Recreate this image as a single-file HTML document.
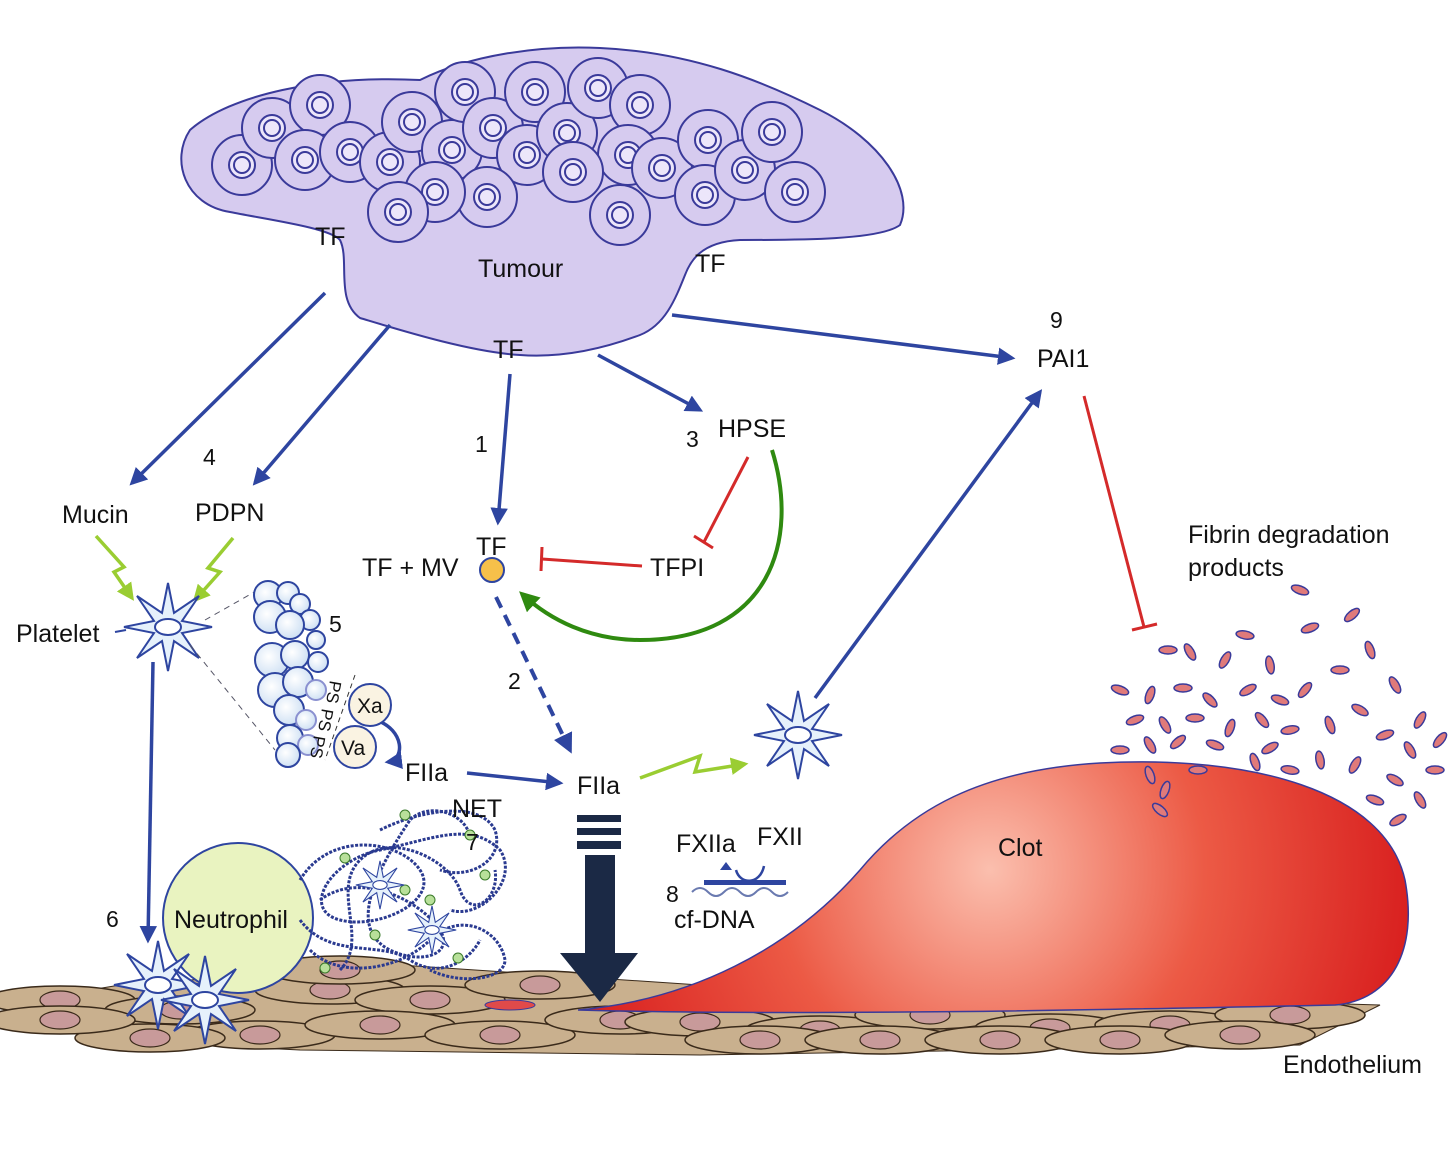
<!DOCTYPE html>
<html><head><meta charset="utf-8"><style>
html,body{margin:0;padding:0;background:#fff;}
svg{display:block;}
text{font-family:"Liberation Sans",Arial,sans-serif;fill:#111;}
</style></head><body>
<svg width="1456" height="1149" viewBox="0 0 1456 1149" xmlns="http://www.w3.org/2000/svg">
<defs>
<marker id="ab" viewBox="0 0 10 10" refX="8" refY="5" markerWidth="5" markerHeight="5" orient="auto"><path d="M0,0 L10,5 L0,10 Z" fill="#2e45a0"/></marker>
<marker id="ag" viewBox="0 0 10 10" refX="8" refY="5" markerWidth="5" markerHeight="5" orient="auto"><path d="M0,0 L10,5 L0,10 Z" fill="#2f8a10"/></marker>
<marker id="ay" viewBox="0 0 10 10" refX="8" refY="5" markerWidth="5" markerHeight="5" orient="auto"><path d="M0,0 L10,5 L0,10 Z" fill="#9acd32"/></marker>
<radialGradient id="cg" cx="990" cy="870" r="430" gradientUnits="userSpaceOnUse"><stop offset="0" stop-color="#fbbfae"/><stop offset="0.5" stop-color="#ec5a45"/><stop offset="1" stop-color="#d81e1e"/></radialGradient>
<radialGradient id="pg" cx="0.4" cy="0.4" r="0.7"><stop offset="0" stop-color="#ffffff"/><stop offset="1" stop-color="#c8dcf2"/></radialGradient>
<g id="star"><polygon points="44,0 14,-6 31,-31 6,-14 0,-44 -6,-14 -31,-31 -14,-6 -44,0 -14,6 -31,31 -6,14 0,44 6,14 31,31 14,6" fill="#e6f1fb" stroke="#2e45a0" stroke-width="2"/><ellipse cx="0" cy="0" rx="13" ry="8" fill="#fff" stroke="#2e45a0" stroke-width="2"/></g>
<g id="cell"><circle r="30" fill="#d6cbef" stroke="#3a3a9a" stroke-width="2"/><circle r="13" fill="#ece6fa" stroke="#3a3a9a" stroke-width="2"/><circle r="8" fill="#ece6fa" stroke="#3a3a9a" stroke-width="2"/></g>
<g id="ec"><ellipse rx="75" ry="14" fill="#c9b08e" stroke="#3a2a1a" stroke-width="1.5"/><ellipse rx="20" ry="9" fill="#c89a9a" stroke="#3a2a1a" stroke-width="1.2"/></g>
<g id="fd"><ellipse rx="9" ry="4" fill="#e07a7a" stroke="#3a3a9a" stroke-width="1.5"/></g>
</defs>

<path d="M190,130 C230,95 320,75 420,80 C470,55 540,45 600,48 C690,52 760,80 820,110 C880,140 915,190 900,225 C880,240 800,240 740,240 C700,242 690,262 685,275 C675,300 665,325 640,335 C600,350 560,358 520,355 C470,352 400,330 360,318 C335,300 350,260 340,240 C330,228 270,220 230,212 C185,205 170,160 190,130 Z" fill="#d6cbef" stroke="#3a3a9a" stroke-width="2"/>
<g>
<use href="#cell" x="242" y="165"/><use href="#cell" x="272" y="128"/><use href="#cell" x="320" y="105"/><use href="#cell" x="305" y="160"/><use href="#cell" x="350" y="152"/><use href="#cell" x="390" y="162"/><use href="#cell" x="412" y="122"/><use href="#cell" x="452" y="150"/><use href="#cell" x="465" y="92"/><use href="#cell" x="493" y="128"/><use href="#cell" x="527" y="155"/><use href="#cell" x="535" y="92"/><use href="#cell" x="567" y="133"/><use href="#cell" x="598" y="88"/><use href="#cell" x="640" y="105"/><use href="#cell" x="628" y="155"/><use href="#cell" x="573" y="172"/><use href="#cell" x="487" y="197"/><use href="#cell" x="435" y="192"/><use href="#cell" x="398" y="212"/><use href="#cell" x="620" y="215"/><use href="#cell" x="662" y="168"/><use href="#cell" x="708" y="140"/><use href="#cell" x="705" y="195"/><use href="#cell" x="745" y="170"/><use href="#cell" x="772" y="132"/><use href="#cell" x="795" y="192"/>
</g>
<text x="478" y="277" font-size="25">Tumour</text>
<text x="315" y="245" font-size="25">TF</text>
<text x="695" y="272" font-size="25">TF</text>
<text x="493" y="358" font-size="25">TF</text>

<g stroke="#2e45a0" stroke-width="3.5" fill="none" marker-end="url(#ab)">
<line x1="325" y1="293" x2="132" y2="483"/>
<line x1="390" y1="325" x2="255" y2="483"/>
<line x1="510" y1="374" x2="498" y2="522"/>
<line x1="598" y1="355" x2="700" y2="410"/>
<line x1="672" y1="315" x2="1012" y2="358"/>
<line x1="815" y1="698" x2="1040" y2="392"/>
<line x1="153" y1="662" x2="148" y2="940"/>
<line x1="467" y1="773" x2="560" y2="783"/>
<path d="M376,720 C405,730 405,760 388,762" />
</g>
<path d="M496,597 L570,750" stroke="#2e45a0" stroke-width="4" stroke-dasharray="12,8" fill="none" marker-end="url(#ab)"/>

<text x="62" y="523" font-size="25">Mucin</text>
<text x="195" y="521" font-size="25">PDPN</text>
<text x="203" y="465" font-size="23">4</text>
<text x="475" y="452" font-size="23">1</text>
<text x="686" y="447" font-size="23">3</text>
<text x="718" y="437" font-size="25">HPSE</text>
<text x="1050" y="328" font-size="23">9</text>
<text x="1037" y="367" font-size="25">PAI1</text>
<text x="476" y="555" font-size="25">TF</text>
<text x="362" y="576" font-size="25">TF + MV</text>
<circle cx="492" cy="570" r="12" fill="#f6c04a" stroke="#2e45a0" stroke-width="2"/>
<text x="650" y="576" font-size="25">TFPI</text>
<text x="508" y="689" font-size="23">2</text>

<g stroke="#d42a2a" stroke-width="3" fill="none">
<line x1="748" y1="457" x2="704" y2="542"/><line x1="694" y1="536" x2="713" y2="548"/>
<line x1="642" y1="566" x2="542" y2="559"/><line x1="542" y1="547" x2="541" y2="571"/>
<line x1="1084" y1="396" x2="1144" y2="627"/><line x1="1132" y1="630" x2="1157" y2="624"/>
</g>
<path d="M772,450 C800,540 770,640 640,640 C590,640 550,620 522,594" stroke="#2f8a10" stroke-width="4" fill="none" marker-end="url(#ag)"/>

<g stroke="#9acd32" stroke-width="3.5" fill="none">
<path d="M96,536 L124,567 L114,572 L132,598" marker-end="url(#ay)"/>
<path d="M233,538 L208,568 L220,572 L195,600" marker-end="url(#ay)"/>
<path d="M640,778 L700,756 L695,772 L745,764" marker-end="url(#ay)"/>
</g>

<use href="#star" x="168" y="627"/>
<text x="16" y="642" font-size="25">Platelet</text>
<line x1="115" y1="632" x2="126" y2="630" stroke="#2e45a0" stroke-width="2"/>
<use href="#star" x="798" y="735"/>
<line x1="205" y1="620" x2="258" y2="590" stroke="#556" stroke-width="1" stroke-dasharray="6,5"/>
<line x1="190" y1="645" x2="275" y2="750" stroke="#556" stroke-width="1" stroke-dasharray="6,5"/>

<g fill="url(#pg)" stroke="#2e45a0" stroke-width="2">
<circle cx="268" cy="595" r="14"/><circle cx="288" cy="593" r="11"/><circle cx="300" cy="604" r="10"/><circle cx="310" cy="620" r="10"/>
<circle cx="270" cy="617" r="16"/><circle cx="290" cy="625" r="14"/><circle cx="316" cy="640" r="9"/>
<circle cx="272" cy="660" r="17"/><circle cx="295" cy="655" r="14"/><circle cx="318" cy="662" r="10"/>
<circle cx="275" cy="690" r="17"/><circle cx="298" cy="682" r="15"/><circle cx="316" cy="690" r="10" stroke="#8a90d0"/>
<circle cx="289" cy="710" r="15"/><circle cx="306" cy="720" r="10" stroke="#8a90d0"/><circle cx="290" cy="738" r="13"/><circle cx="308" cy="745" r="10" stroke="#8a90d0"/>
<circle cx="288" cy="755" r="12"/>
</g>
<text x="329" y="632" font-size="23">5</text>
<text font-size="17" transform="translate(330,680) rotate(100)">PS</text>
<text font-size="17" transform="translate(322,708) rotate(100)">PS</text>
<text font-size="17" transform="translate(314,735) rotate(100)">PS</text>
<line x1="355" y1="675" x2="325" y2="760" stroke="#333" stroke-width="1" stroke-dasharray="5,4"/>
<circle cx="370" cy="705" r="21" fill="#faf3e2" stroke="#2e45a0" stroke-width="2"/>
<circle cx="355" cy="747" r="21" fill="#faf3e2" stroke="#2e45a0" stroke-width="2"/>
<text x="357" y="713" font-size="21">Xa</text>
<text x="341" y="755" font-size="21">Va</text>
<text x="405" y="781" font-size="25">FIIa</text>
<text x="577" y="794" font-size="25">FIIa</text>

<g>
<polygon points="0,1005 120,985 400,965 700,985 1380,1005 1300,1045 700,1055 300,1050 100,1040" fill="#c9b08e" stroke="#3a2a1a" stroke-width="1"/>
<use href="#ec" x="60" y="1000"/>
<use href="#ec" x="180" y="1010"/><use href="#ec" x="330" y="990"/><use href="#ec" x="430" y="1000"/><use href="#ec" x="540" y="985"/>
<use href="#ec" x="260" y="1035"/><use href="#ec" x="150" y="1038"/><use href="#ec" x="380" y="1025"/><use href="#ec" x="500" y="1035"/><use href="#ec" x="620" y="1020"/>
<use href="#ec" x="700" y="1022"/><use href="#ec" x="820" y="1030"/><use href="#ec" x="930" y="1015"/><use href="#ec" x="1050" y="1028"/><use href="#ec" x="1170" y="1025"/><use href="#ec" x="1290" y="1015"/>
<use href="#ec" x="760" y="1040"/><use href="#ec" x="880" y="1040"/><use href="#ec" x="1000" y="1040"/><use href="#ec" x="1120" y="1040"/><use href="#ec" x="1240" y="1035"/>
<use href="#ec" x="60" y="1020"/><use href="#ec" x="340" y="970"/>
</g>
<text x="1283" y="1073" font-size="25">Endothelium</text>

<path d="M578,1010 C690,1000 790,950 860,870 C910,810 980,770 1100,763 C1250,755 1385,790 1405,880 C1418,950 1392,1000 1335,1005 C1100,1010 800,1016 578,1010 Z" fill="url(#cg)" stroke="#3a3a9a" stroke-width="1.5"/>
<text x="998" y="856" font-size="25">Clot</text>

<circle cx="238" cy="918" r="75" fill="#e9f3c0" stroke="#2e45a0" stroke-width="2"/>
<text x="174" y="928" font-size="25">Neutrophil</text>
<g stroke="#2a3a90" stroke-width="3" fill="none" stroke-dasharray="3,1.5">
<path d="M300,880 C330,830 400,840 420,870 C440,900 380,930 340,920 C300,910 330,860 380,850 C430,840 470,820 500,850 C520,880 480,920 450,910"/>
<path d="M310,950 C340,980 400,970 430,940 C460,910 500,930 505,960 C505,980 460,985 430,970"/>
<path d="M320,900 C360,870 420,900 440,930 C455,955 420,965 390,950 C350,930 370,880 410,820 C430,800 470,815 470,840"/>
<path d="M340,970 C370,940 330,890 360,860 C390,830 450,860 460,890 C470,920 500,900 495,870"/>
<path d="M300,920 C330,960 380,940 410,960 C440,980 470,960 480,940"/>
<path d="M380,830 C420,810 480,800 495,830 C505,860 470,880 440,870"/>
</g>
<g fill="#b8e09a" stroke="#3a7a2a" stroke-width="1">
<circle cx="345" cy="858" r="5"/><circle cx="405" cy="890" r="5"/><circle cx="375" cy="935" r="5"/><circle cx="458" cy="958" r="5"/><circle cx="430" cy="900" r="5"/><circle cx="405" cy="815" r="5"/><circle cx="485" cy="875" r="5"/><circle cx="325" cy="968" r="5"/><circle cx="470" cy="835" r="5"/>
</g>
<use href="#star" transform="translate(380,885) scale(0.55)"/>
<use href="#star" transform="translate(432,930) scale(0.55)"/>
<text x="452" y="817" font-size="25">NET</text>
<text x="466" y="850" font-size="23">7</text>
<text x="106" y="927" font-size="23">6</text>
<use href="#star" x="158" y="985"/>
<use href="#star" x="205" y="1000"/>
<ellipse cx="510" cy="1005" rx="25" ry="5" fill="#e04a4a" stroke="#3a3a9a" stroke-width="1"/>

<g fill="#1b2945">
<rect x="577" y="815" width="44" height="7"/><rect x="577" y="828" width="44" height="7"/><rect x="577" y="841" width="44" height="8"/>
<rect x="585" y="855" width="30" height="100"/>
<polygon points="560,953 638,953 600,1002"/>
</g>

<text x="676" y="852" font-size="25">FXIIa</text>
<text x="757" y="845" font-size="25">FXII</text>
<text x="666" y="902" font-size="23">8</text>
<text x="674" y="928" font-size="25">cf-DNA</text>
<path d="M736,870 C740,885 760,885 764,866" stroke="#2e45a0" stroke-width="2.5" fill="none"/>
<path d="M732,870 l-6,-8 l-6,8" fill="#2e45a0"/>
<rect x="704" y="880" width="82" height="5" fill="#2e45a0"/>
<path d="M692,892 q8,-8 16,0 q8,8 16,0 q8,-8 16,0 q8,8 16,0 q8,-8 16,0 q8,8 16,0" stroke="#6a7ab0" stroke-width="2" fill="none"/>

<text x="1188" y="543" font-size="25">Fibrin degradation</text>
<text x="1188" y="576" font-size="25">products</text>

<g>
<use href="#fd" transform="translate(1300,590) rotate(20)"/><use href="#fd" transform="translate(1352,615) rotate(-40)"/><use href="#fd" transform="translate(1245,635) rotate(10)"/><use href="#fd" transform="translate(1310,628) rotate(-20)"/>
<use href="#fd" transform="translate(1168,650) rotate(0)"/><use href="#fd" transform="translate(1190,652) rotate(60)"/><use href="#fd" transform="translate(1225,660) rotate(-60)"/><use href="#fd" transform="translate(1270,665) rotate(80)"/>
<use href="#fd" transform="translate(1370,650) rotate(70)"/><use href="#fd" transform="translate(1395,685) rotate(60)"/><use href="#fd" transform="translate(1340,670) rotate(0)"/><use href="#fd" transform="translate(1120,690) rotate(20)"/>
<use href="#fd" transform="translate(1150,695) rotate(-70)"/><use href="#fd" transform="translate(1183,688) rotate(0)"/><use href="#fd" transform="translate(1210,700) rotate(45)"/><use href="#fd" transform="translate(1248,690) rotate(-30)"/>
<use href="#fd" transform="translate(1280,700) rotate(20)"/><use href="#fd" transform="translate(1305,690) rotate(-50)"/><use href="#fd" transform="translate(1360,710) rotate(30)"/><use href="#fd" transform="translate(1420,720) rotate(-60)"/>
<use href="#fd" transform="translate(1135,720) rotate(-20)"/><use href="#fd" transform="translate(1165,725) rotate(60)"/><use href="#fd" transform="translate(1195,718) rotate(0)"/><use href="#fd" transform="translate(1230,728) rotate(-70)"/>
<use href="#fd" transform="translate(1262,720) rotate(50)"/><use href="#fd" transform="translate(1290,730) rotate(-10)"/><use href="#fd" transform="translate(1330,725) rotate(70)"/><use href="#fd" transform="translate(1385,735) rotate(-20)"/>
<use href="#fd" transform="translate(1410,750) rotate(60)"/><use href="#fd" transform="translate(1120,750) rotate(0)"/><use href="#fd" transform="translate(1150,745) rotate(60)"/><use href="#fd" transform="translate(1178,742) rotate(-40)"/>
<use href="#fd" transform="translate(1215,745) rotate(20)"/><use href="#fd" transform="translate(1270,748) rotate(-30)"/><use href="#fd" transform="translate(1320,760) rotate(80)"/><use href="#fd" transform="translate(1355,765) rotate(-60)"/>
<use href="#fd" transform="translate(1395,780) rotate(30)"/><use href="#fd" transform="translate(1435,770) rotate(0)"/><use href="#fd" transform="translate(1420,800) rotate(60)"/><use href="#fd" transform="translate(1398,820) rotate(-30)"/>
<use href="#fd" transform="translate(1150,775) rotate(70)"/><use href="#fd" transform="translate(1165,790) rotate(-70)"/><use href="#fd" transform="translate(1160,810) rotate(40)"/><use href="#fd" transform="translate(1198,770) rotate(0)"/>
<use href="#fd" transform="translate(1290,770) rotate(10)"/><use href="#fd" transform="translate(1255,762) rotate(70)"/><use href="#fd" transform="translate(1375,800) rotate(20)"/><use href="#fd" transform="translate(1440,740) rotate(-50)"/>
</g>
</svg>
</body></html>
